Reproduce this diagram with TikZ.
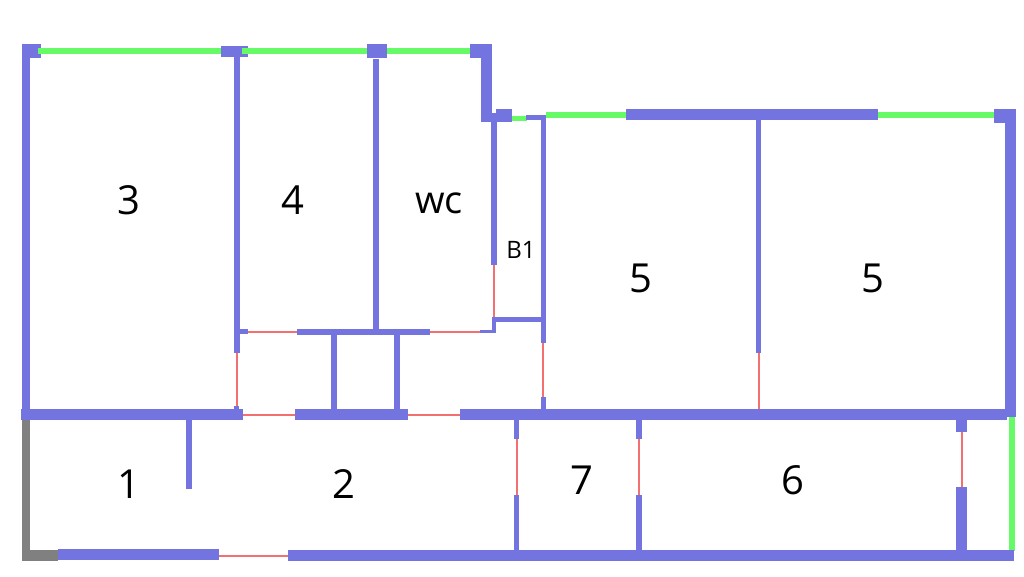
\documentclass[tikz,border=0pt]{standalone}
\usepackage{fontspec}
\setmainfont{Open Sans}
\definecolor{wallc}{HTML}{7474E0}
\definecolor{winc}{HTML}{66FB66}
\definecolor{doorc}{HTML}{F27070}
\definecolor{extc}{HTML}{808080}
\tikzset{
  wall/.style={fill=wallc,draw=none},
  window/.style={fill=winc,draw=none},
  ext/.style={fill=extc,draw=none},
  door/.style={draw=doorc,line width=1.9pt},
  room/.style={font=\fontsize{40}{40}\selectfont,text=black,inner sep=0pt},
  smallroom/.style={font=\fontsize{24}{24}\selectfont,text=black,inner sep=0pt}
}
\begin{document}
\begin{tikzpicture}[x=1pt,y=-1pt]
\useasboundingbox (0,0) rectangle (1024,576);
% windows
\fill[window] (38,48) rectangle (222,53.7);
\fill[window] (242,48) rectangle (368,54);
\fill[window] (386,48) rectangle (471,54);
\fill[window] (512,116) rectangle (527,121);
\fill[window] (546,112) rectangle (627,118);
\fill[window] (877,112) rectangle (998,118);
\fill[window] (1009,416) rectangle (1015,551);
% doors
\draw[door] (248,332) -- (298,332);
\draw[door] (429,332) -- (481,332);
\draw[door] (494,264) -- (494,318);
\draw[door] (237,352) -- (237,407);
\draw[door] (543,342) -- (543,398);
\draw[door] (242,415) -- (296,415);
\draw[door] (407,415) -- (461,415);
\draw[door] (759,352) -- (759,410);
\draw[door] (517,438) -- (517,496);
\draw[door] (639,438) -- (639,496);
\draw[door] (962,431) -- (962,488);
\draw[door] (218,556) -- (289,556);
% exterior grey walls
\fill[ext] (22,419) rectangle (30,561);
\fill[ext] (22,550) rectangle (58,561);
% upper walls
\fill[wall] (22,44) rectangle (30,420);
\fill[wall] (22,44) rectangle (41,48);
\fill[wall] (22,48) rectangle (38,54);
\fill[wall] (22,54) rectangle (41,58);
\fill[wall] (221,46) rectangle (248,48);
\fill[wall] (221,48) rectangle (242,54);
\fill[wall] (221,54) rectangle (248,57);
\fill[wall] (234,57) rectangle (239.5,353);
\fill[wall] (367,44) rectangle (387,58);
\fill[wall] (373,59) rectangle (379,332);
\fill[wall] (470,44) rectangle (492,58);
\fill[wall] (481,44) rectangle (492,122);
\fill[wall] (481,113) rectangle (512,122);
\fill[wall] (496,109) rectangle (512,122);
\fill[wall] (491,122) rectangle (497,265);
\fill[wall] (526,115) rectangle (546,120);
\fill[wall] (541,115) rectangle (546,343);
\fill[wall] (626,109) rectangle (878,120);
\fill[wall] (994,109) rectangle (1016,123);
\fill[wall] (1005,109) rectangle (1016,417);
\fill[wall] (756,120) rectangle (761,353);
% inner hall
\fill[wall] (239,329) rectangle (248,334);
\fill[wall] (297,329) rectangle (430,335);
\fill[wall] (480,330) rectangle (496,333);
\fill[wall] (492,317) rectangle (496,333);
\fill[wall] (492,317) rectangle (541,322);
\fill[wall] (331,335) rectangle (337,409);
\fill[wall] (394,335) rectangle (399.5,409);
\fill[wall] (234,406) rectangle (239,409);
\fill[wall] (541,397) rectangle (546,409);
% middle band
\fill[wall] (21,409) rectangle (243,420);
\fill[wall] (295,409) rectangle (408,420);
\fill[wall] (460,409) rectangle (1007,420);
\fill[wall] (186,409) rectangle (192,489);
\fill[wall] (514,420) rectangle (519,439);
\fill[wall] (514,495) rectangle (519,550);
\fill[wall] (636,420) rectangle (642,439);
\fill[wall] (636,495) rectangle (642,550);
\fill[wall] (956,420) rectangle (967,432);
\fill[wall] (956,487) rectangle (967,550);
% bottom
\fill[wall] (58,549) rectangle (219,560);
\fill[wall] (288,550) rectangle (1014,561);
% labels
\node[room] (r3) at (129,200) {3};
\node[room] (r4) at (293,200) {4};
\node[room,font=\fontsize{38}{38}\selectfont] (rwc) at (439,203) {wc};
\node[smallroom] (rb1) at (521,250) {B1};
\node[room] (r5a) at (641,278) {5};
\node[room] (r5b) at (873,278) {5};
\node[room] (r1) at (129,484) {1};
\node[room] (r2) at (344,484) {2};
\node[room] (r7) at (582,480) {7};
\node[room] (r6) at (793,480) {6};
\end{tikzpicture}
\end{document}
